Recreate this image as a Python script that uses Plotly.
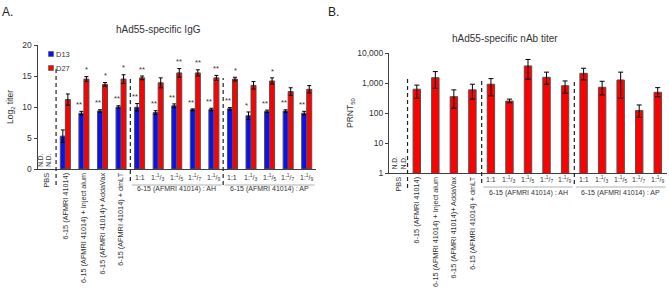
import plotly.graph_objects as go

W, H = 669, 290
FONT = "Arial, 'Liberation Sans', sans-serif"
TXT = "#333333"
AX = "#404040"

# ---------------- data ----------------
categories = ["PBS", "6-15 (AFMRI 41014)", "6-15 (AFMRI 41014) + Inject alum",
              "6-15 (AFMRI 41014)+ AddaVax", "6-15 (AFMRI 41014) + dmLT",
              "AH 1:1", "AH 1:1/3", "AH 1:1/5", "AH 1:1/7", "AH 1:1/9",
              "AP 1:1", "AP 1:1/3", "AP 1:1/5", "AP 1:1/7", "AP 1:1/9"]
rot_labels = ["PBS", "6-15 (AFMRI 41014)", "6-15 (AFMRI 41014) + Inject alum",
              "6-15 (AFMRI 41014)+ AddaVax", "6-15 (AFMRI 41014) + dmLT",
              "", "", "", "", "", "", "", "", "", ""]
ratio_labels = ["1:1", "1:<sup>1</sup>/<sub>3</sub>", "1:<sup>1</sup>/<sub>5</sub>",
                "1:<sup>1</sup>/<sub>7</sub>", "1:<sup>1</sup>/<sub>9</sub>"]
group_labels = ["6-15 (AFMRI 41014) : AH", "6-15 (AFMRI 41014) : AP"]

d13 = [None, 5.3, 9.0, 9.35, 10.0, 9.95, 9.1, 10.2, 9.55, 9.6, 9.7, 8.6, 9.3, 9.35, 9.0]
d13_err = [None, 1.0, 0.3, 0.2, 0.2, 0.6, 0.3, 0.3, 0.15, 0.2, 0.2, 0.6, 0.2, 0.2, 0.3]
d27 = [None, 11.2, 14.5, 13.65, 14.5, 14.7, 13.9, 15.5, 15.5, 14.7, 14.5, 13.5, 14.2, 12.5, 12.85]
d27_err = [None, 0.9, 0.4, 0.3, 0.7, 0.3, 0.8, 0.7, 0.5, 0.4, 0.3, 0.6, 0.5, 0.6, 0.6]
d13_sig = ["", "", "**", "**", "**", "**", "**", "**", "**", "**", "**", "*", "**", "**", "**"]
d27_sig = ["", "", "*", "*", "*", "**", "", "**", "**", "**", "*", "", "*", "", ""]

nab = [None, 620, 1500, 350, 590, 910, 250, 3700, 1550, 810, 2100, 720, 1260, 120, 490]
nab_hi = [None, 850, 2400, 590, 910, 1400, 290, 6100, 2300, 1170, 3100, 1140, 2300, 185, 700]
nab_lo = [None, 310, 670, 145, 290, 370, 220, 1330, 910, 455, 1260, 400, 310, 72, 350]

y_ticks_left = [0, 5, 10, 15, 20]
y_ticks_right = [1, 10, 100, 1000, 10000]
y_ticktext_right = ["1", "10", "100", "1,000", "10,000"]

BLUE = "#0a10f0"
RED = "#ff0000"
EDGE = "#505050"

xs = list(range(len(categories)))


def px_x(p):
    return p / W


def px_y(p):
    return 1 - p / H


fig = go.Figure()

fig.add_trace(go.Bar(x=xs, y=d13, name="D13", marker=dict(color=BLUE, line=dict(color=EDGE, width=1)),
                     error_y=dict(type="data", array=d13_err, color="black", thickness=1, width=2),
                     xaxis="x", yaxis="y", showlegend=False))
fig.add_trace(go.Bar(x=xs, y=d27, name="D27", marker=dict(color=RED, line=dict(color=EDGE, width=1)),
                     error_y=dict(type="data", array=d27_err, color="black", thickness=1, width=2),
                     xaxis="x", yaxis="y", showlegend=False))

plus = [None if v is None else h - v for v, h in zip(nab, nab_hi)]
minus = [None if v is None else v - l for v, l in zip(nab, nab_lo)]
fig.add_trace(go.Bar(x=xs, y=nab, width=0.4, marker=dict(color=RED, line=dict(color=EDGE, width=1)),
                     error_y=dict(type="data", symmetric=False, array=plus, arrayminus=minus,
                                  color="black", thickness=1, width=2.5),
                     xaxis="x2", yaxis="y2", showlegend=False))

xcommon = dict(range=[-0.5, 14.5], tickmode="array", tickvals=xs, ticktext=rot_labels, tickangle=-90,
               showline=True, linecolor=AX, linewidth=1, ticks="", showgrid=False, zeroline=False,
               automargin=False, ticklabeloverflow="allow",
               tickfont=dict(size=7.3, color=TXT, family=FONT))
ycommon = dict(showline=True, linecolor=AX, linewidth=1, ticks="outside", ticklen=3, tickcolor=AX,
               showgrid=False, zeroline=False, automargin=False, ticklabeloverflow="allow",
               tickfont=dict(size=8.5, color=TXT, family=FONT))

fig.update_layout(
    width=W, height=H, margin=dict(l=0, r=0, t=0, b=0, autoexpand=False),
    paper_bgcolor="white", plot_bgcolor="white",
    barmode="group", bargap=0.46, bargroupgap=0,
    font=dict(family=FONT, color=TXT),
    xaxis=dict(domain=[px_x(37.5), px_x(316)], anchor="y", **xcommon),
    yaxis=dict(domain=[px_y(169), px_y(45)], anchor="x", range=[0, 20], tickmode="array",
               tickvals=y_ticks_left, ticktext=[str(v) for v in y_ticks_left], **ycommon),
    xaxis2=dict(domain=[px_x(389), px_x(667)], anchor="y2", **xcommon),
    yaxis2=dict(domain=[px_y(173), px_y(53)], anchor="x2", type="log", range=[0, 4], tickmode="array",
                tickvals=y_ticks_right, ticktext=y_ticktext_right, **ycommon),
)

ann = []
shapes = []


def paper_text(text, x, y, size, xanchor="center", yanchor="middle", angle=0, color=TXT):
    ann.append(dict(text=text, x=px_x(x), y=px_y(y), xref="paper", yref="paper", xanchor=xanchor,
                    yanchor=yanchor, textangle=angle, showarrow=False,
                    font=dict(size=size, color=color, family=FONT)))


# panel letters and titles
paper_text("A.", 0, 3, 12, xanchor="left", yanchor="top", color="#222")
paper_text("B.", 326, 3, 12, xanchor="left", yanchor="top", color="#222")
paper_text("hAd55-specific IgG", 158, 30, 10)
paper_text("hAd55-specific nAb titer", 505, 39, 10)
paper_text("Log<sub>2</sub> titer", 11, 107, 8.5, angle=-90)
paper_text("PRNT<sub>50</sub>", 350, 113, 8.5, angle=-90)

# legend (left panel)
for i, (nm, col) in enumerate([("D13", BLUE), ("D27", RED)]):
    cy = 54 + 14 * i
    shapes.append(dict(type="rect", xref="paper", yref="paper", x0=px_x(48.5), x1=px_x(53.5),
                       y0=px_y(cy + 2.5), y1=px_y(cy - 2.5), fillcolor=col, line=dict(color=EDGE, width=0.6)))
    paper_text(nm, 54.5, cy, 7.5, xanchor="left")

# significance stars
for i in xs:
    if d13_sig[i]:
        ann.append(dict(text=d13_sig[i], x=i - 0.24, y=d13[i] + d13_err[i] + 0.05, xref="x", yref="y",
                        xanchor="center", yanchor="bottom", showarrow=False,
                        font=dict(size=7.5, color=TXT, family=FONT)))
    if d27_sig[i]:
        ann.append(dict(text=d27_sig[i], x=i + 0.14, y=d27[i] + d27_err[i] + 0.05, xref="x", yref="y",
                        xanchor="center", yanchor="bottom", showarrow=False,
                        font=dict(size=7.5, color=TXT, family=FONT)))

# N.D. labels
ann.append(dict(text="N.D.<br>N.D.", x=-0.1, y=0.1, xref="x", yref="y", xanchor="center", yanchor="bottom",
                textangle=-90, showarrow=False, font=dict(size=6.5, color=TXT, family=FONT)))
ann.append(dict(text="N.D.<br>N.D.", x=0.0, y=0.05, xref="x2", yref="y2", xanchor="center", yanchor="bottom",
                textangle=-90, showarrow=False, font=dict(size=6.5, color=TXT, family=FONT)))

# ratio and group labels, underline and separators
panels = [dict(xr="x", ratio_y=177, line_y=185, group_y=195,
               seps=[(0.5, 68, 185), (4.5, 78, 181), (9.5, 78, 185)]),
          dict(xr="x2", ratio_y=179, line_y=187, group_y=199,
               seps=[(0.5, 79, 188), (4.5, 79, 183), (9.5, 79, 184)])]
for p in panels:
    for g, start in enumerate([5, 10]):
        for k, lab in enumerate(ratio_labels):
            ann.append(dict(text=lab, x=start + k, y=px_y(p["ratio_y"]), xref=p["xr"], yref="paper",
                            xanchor="center", showarrow=False, font=dict(size=7, color=TXT, family=FONT)))
        shapes.append(dict(type="line", xref=p["xr"], yref="paper", x0=start - 0.42, x1=start + 4.42,
                           y0=px_y(p["line_y"]), y1=px_y(p["line_y"]), line=dict(color="#b0b0b0", width=1)))
        ann.append(dict(text=group_labels[g], x=start + 2, y=px_y(p["group_y"]), xref=p["xr"], yref="paper",
                        xanchor="center", showarrow=False, font=dict(size=7, color=TXT, family=FONT)))
    for xv, top, bot in p["seps"]:
        shapes.append(dict(type="line", xref=p["xr"], yref="paper", x0=xv, x1=xv,
                           y0=px_y(bot), y1=px_y(top), line=dict(color="#222", width=1.2, dash="4px,3px")))

fig.update_layout(annotations=ann, shapes=shapes)
fig.write_html("out.html", config={"displayModeBar": False},
               post_script="document.body.style.margin='0';document.body.style.overflow='hidden';")
